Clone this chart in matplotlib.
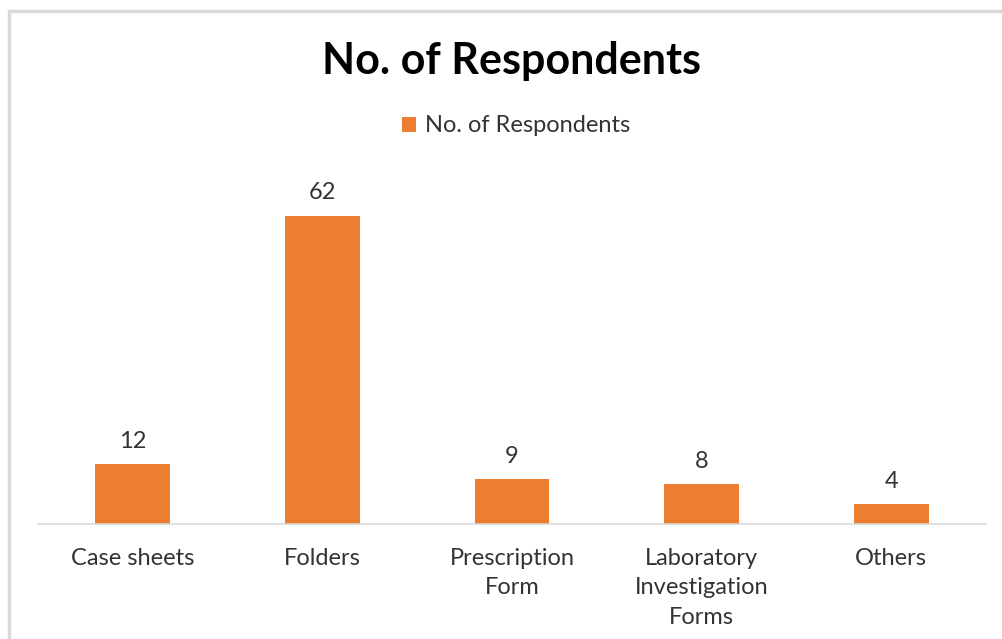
import matplotlib.pyplot as plt
from matplotlib.patches import Rectangle

categories = ['Case sheets', 'Folders', 'Prescription\nForm',
              'Laboratory\nInvestigation\nForms', 'Others']
respondents = [12, 62, 9, 8, 4]
series_name = 'No. of Respondents'

bar_color = '#ED7D31'
text_color = '#333333'

plt.rcParams['font.family'] = ['Lato', 'DejaVu Sans']

fig = plt.figure(figsize=(10.02, 6.39), dpi=100)
W, H = 1002, 639

# chart frame (light grey border, cut off at right and bottom)
fig.patches.append(Rectangle((9 / W, -0.1), 1.2, 1 - 11 / H + 0.1,
                             transform=fig.transFigure, fill=False,
                             edgecolor='#d9d9d9', linewidth=2.5))

ax = fig.add_axes([38 / W, 115 / H, 948 / W, 348 / H])
x = range(len(categories))
bars = ax.bar(x, respondents, width=0.395, color=bar_color, label=series_name)
ax.set_xlim(-0.5, len(categories) - 0.5)
ax.set_ylim(0, 70)

for b, v in zip(bars, respondents):
    ax.annotate(str(v), (b.get_x() + b.get_width() / 2, v),
                xytext=(0, 9), textcoords='offset points',
                ha='center', va='bottom', fontsize=17, color=text_color)

ax.set_xticks(list(x))
ax.set_xticklabels(categories, fontsize=17, color=text_color, linespacing=1.52,
                   va='top')
ax.tick_params(axis='x', length=0, pad=17)
ax.set_yticks([])
for side in ['top', 'right', 'left']:
    ax.spines[side].set_visible(False)
ax.spines['bottom'].set_color('#d9d9d9')
ax.spines['bottom'].set_linewidth(1.2)

fig.text(512 / W, 1 - 61 / H, series_name, ha='center', va='center',
         fontsize=31, fontweight='bold', color='black')

fig.legend(handles=[bars], labels=[series_name], loc='center',
           bbox_to_anchor=(516 / W, 1 - 126 / H), frameon=False,
           fontsize=17, handlelength=0.6, handleheight=0.6, handletextpad=0.4,
           labelcolor=text_color)

fig.savefig('out.png', dpi=100)
